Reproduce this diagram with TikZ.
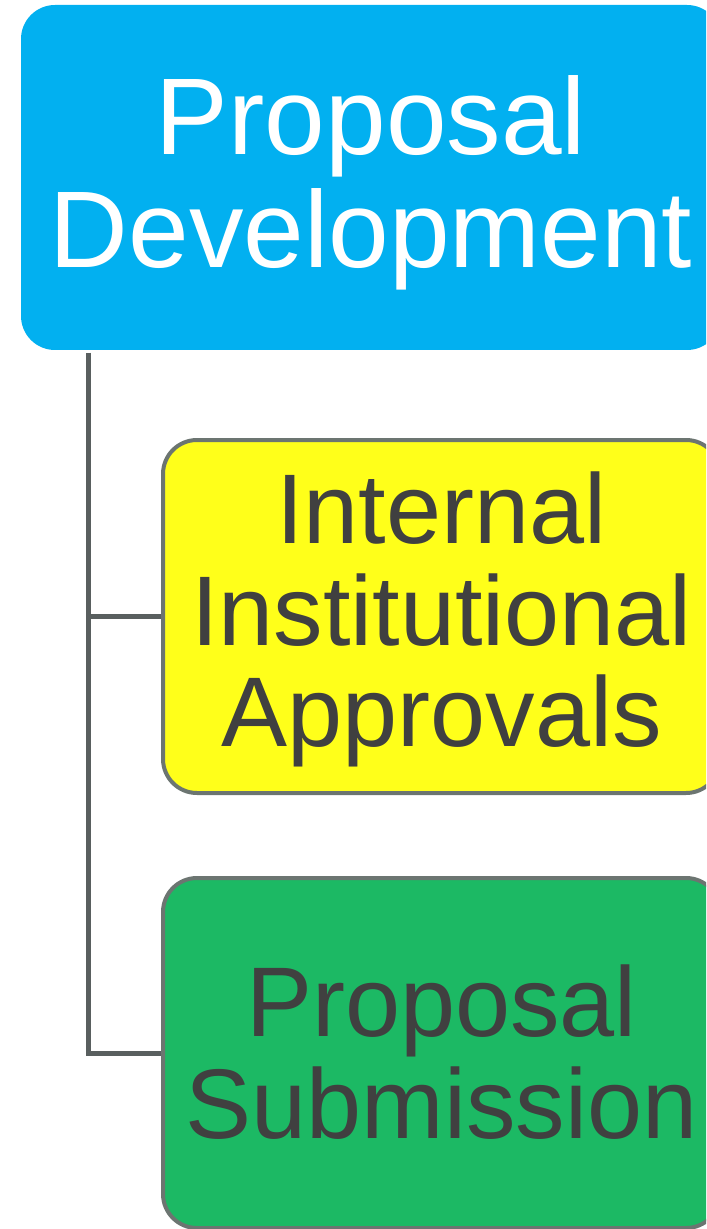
\documentclass[tikz,border=0pt]{standalone}
\usepackage{fontspec}
\setmainfont{Liberation Sans}
\usetikzlibrary{positioning,calc}
\definecolor{devblue}{HTML}{02B0F0}
\definecolor{appryellow}{HTML}{FFFF1A}
\definecolor{submgreen}{HTML}{1CB964}
\definecolor{boxrim}{HTML}{6C7571}
\definecolor{trunkgrey}{HTML}{595F5F}
\definecolor{labelgrey}{HTML}{404040}
\begin{document}
\begin{tikzpicture}[x=0.5pt,y=-0.5pt,
		stagebox/.style={rectangle, rounded corners=17pt, inner sep=0pt},
		headbox/.style={stagebox, fill=devblue, minimum width=350pt, minimum height=172.5pt},
		subbox/.style={stagebox, draw=boxrim, line width=2pt, minimum width=278.5pt},
		headtext/.style={align=center, inner sep=0pt, text=white, font=\fontsize{54.5}{56.5}\selectfont},
		subtext/.style={align=center, inner sep=0pt, text=labelgrey, font=\fontsize{49.5}{50.7}\selectfont},
		link/.style={draw=trunkgrey, line width=2.5pt}]
	\useasboundingbox (0,0) rectangle (706,1229);
	\clip (0,0) rectangle (706,1229);
	\node[headbox] (dev) at (371,177.5) {};
	\node[subbox, fill=appryellow, minimum height=176.5pt] (appr) at (441.5,616.5) {};
	\node[subbox, fill=submgreen, minimum height=175pt] (subm) at (441.5,1053) {};
	\node[headtext] (devtext) at ([yshift=-2.5pt]dev.center) {Proposal\\Development};
	\node[subtext] (apprtext) at ([yshift=-1.5pt]appr.center) {Internal\\Institutional\\Approvals};
	\node[subtext] (submtext) at ([yshift=0.5pt]subm.center) {Proposal\\Submission};
	\coordinate (trunk) at (88,353);
	\draw[link] (trunk) |- (appr.west);
	\draw[link] (trunk) |- (subm.west);
\end{tikzpicture}
\end{document}
